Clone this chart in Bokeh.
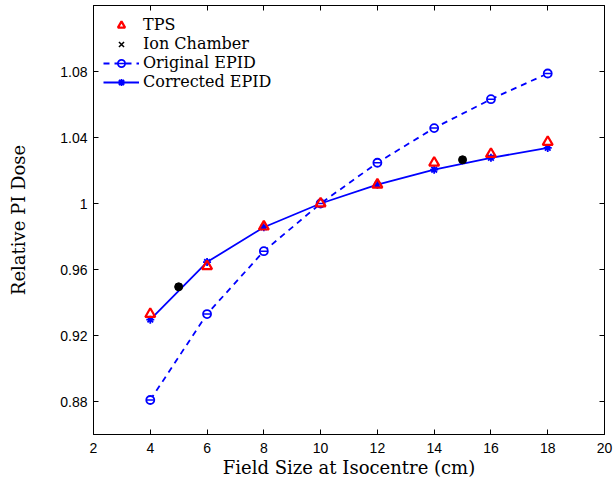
from bokeh.plotting import figure
from bokeh.models import Legend, LegendItem, FixedTicker, LinearAxis, Range1d
from bokeh.embed import file_html
from bokeh.resources import INLINE

field_size = [4, 6, 8, 10, 12, 14, 16, 18]
tps = [0.933, 0.962, 0.986, 1.000, 1.0114, 1.0247, 1.030, 1.0373]
ion_x = [5, 15]
ion_y = [0.9495, 1.0265]
orig_epid = [0.8809, 0.933, 0.9711, 1.000, 1.0247, 1.0457, 1.0632, 1.0788]
corr_epid = [0.9296, 0.9645, 0.9856, 1.000, 1.0114, 1.0205, 1.0277, 1.0337]

x_ticks = [2, 4, 6, 8, 10, 12, 14, 16, 18, 20]
y_ticks = [0.88, 0.92, 0.96, 1.00, 1.04, 1.08]

BLUE = "#0000ff"
RED = "#ff0000"
SERIF = "DejaVu Serif"
SANS = "Liberation Sans"

p = figure(width=613, height=480, output_backend="svg", toolbar_location=None,
           x_range=Range1d(2, 20), y_range=Range1d(0.86, 1.12),
           min_border_left=93, min_border_right=9, min_border_top=5, min_border_bottom=46)
p.xgrid.visible = False
p.ygrid.visible = False
p.outline_line_color = "black"
p.outline_line_width = 1
p.background_fill_color = "white"
p.border_fill_color = "white"

# data
corr_line = p.line(field_size, corr_epid, line_color=BLUE, line_width=1.8)
corr_pts = p.scatter(field_size, corr_epid, marker="asterisk", size=8, line_color=BLUE, line_width=1.8)
orig_line = p.line(field_size, orig_epid, line_color=BLUE, line_width=1.8, line_dash="6 5")
orig_pts = p.scatter(field_size, orig_epid, marker="circle", size=8, line_color=BLUE,
                     fill_color="white", line_width=1.8)
orig_dash = p.scatter(field_size, orig_epid, marker="dash", size=7, line_color=BLUE, line_width=1.5)
tps_pts = p.scatter(field_size, tps, marker="triangle", size=10, line_color=RED,
                    fill_color=None, line_width=2.2)
ion_blob = p.scatter(ion_x, ion_y, marker="circle", size=8, fill_color="black", line_color="black")
ion_leg = p.scatter(ion_x, ion_y, marker="x", size=6, line_color="black", line_width=1.5)

# axes
p.xaxis.ticker = FixedTicker(ticks=x_ticks)
p.yaxis.ticker = FixedTicker(ticks=y_ticks)
p.yaxis.major_label_overrides = {1: "1", 1.0: "1"}
p.xaxis.axis_label = "Field Size at Isocentre (cm)"
p.yaxis.axis_label = "Relative PI Dose"
for ax in [p.xaxis[0], p.yaxis[0]]:
    ax.axis_label_text_font = SERIF
    ax.axis_label_text_font_size = "18px"
    ax.axis_label_text_font_style = "normal"
    ax.axis_label_text_color = "black"
    ax.major_label_text_font = SANS
    ax.major_label_text_font_size = "14px"
    ax.major_label_text_color = "black"
    ax.major_tick_in = 5
    ax.major_tick_out = 0
    ax.minor_tick_in = 0
    ax.minor_tick_out = 0
    ax.axis_line_color = "black"
    ax.major_tick_line_color = "black"
p.xaxis.axis_label_standoff = 1
p.yaxis.axis_label_standoff = 28
p.xaxis.major_label_standoff = 8
p.yaxis.major_label_standoff = 6

for loc in ["right", "above"]:
    ax = LinearAxis(ticker=FixedTicker(ticks=y_ticks if loc == "right" else x_ticks))
    ax.major_label_text_font_size = "0px"
    ax.major_label_text_color = None
    ax.major_tick_in = 5
    ax.major_tick_out = 0
    ax.minor_tick_in = 0
    ax.minor_tick_out = 0
    ax.major_label_standoff = 0
    p.add_layout(ax, loc)

legend = Legend(items=[
    LegendItem(label="TPS", renderers=[tps_pts]),
    LegendItem(label="Ion Chamber", renderers=[ion_leg]),
    LegendItem(label="Original EPID", renderers=[orig_line, orig_pts, orig_dash]),
    LegendItem(label="Corrected EPID", renderers=[corr_line, corr_pts]),
], location="top_left")
legend.background_fill_alpha = 0
legend.border_line_color = None
legend.label_text_font = SERIF
legend.label_text_font_size = "16px"
legend.label_text_color = "black"
legend.label_standoff = 4
legend.glyph_width = 36
legend.glyph_height = 18
legend.spacing = 0
legend.padding = 2
legend.margin = 10
legend.label_height = 18
legend.label_text_line_height = 1.0
p.add_layout(legend)

open("out.html", "w").write(file_html(p, INLINE))
